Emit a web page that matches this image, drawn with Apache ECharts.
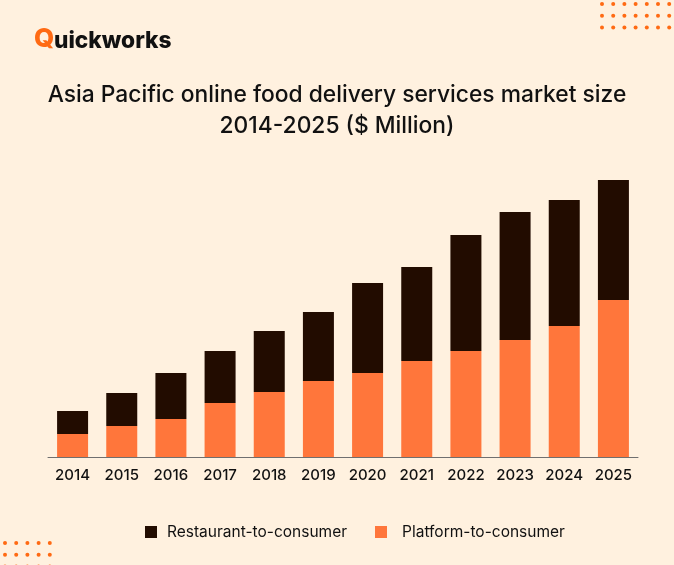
<!DOCTYPE html>
<html>
<head>
<meta charset="utf-8">
<style>html,body{margin:0;padding:0;background:#fff1df}</style>
<script src="https://cdn.jsdelivr.net/npm/echarts@6/dist/echarts.min.js"></script>
</head>
<body>
<div id="chart" style="width:674px;height:565px"></div>
<script>
var years = ['2014','2015','2016','2017','2018','2019','2020','2021','2022','2023','2024','2025'];
var platform = [23,31,38,54,65,76,84,96,106,117,131,157];
var restaurant = [23,33,46,52,61,69,90,94,116,128,126,120];

var font = 'Inter';
var dots = [];
function addDots(x0, y0, cols, rows) {
    for (var r = 0; r < rows; r++) {
        for (var c = 0; c < cols; c++) {
            dots.push({
                type: 'circle',
                shape: { cx: x0 + c * 11.2, cy: y0 + r * 11.8, r: 2 },
                style: { fill: '#ff6a13' }
            });
        }
    }
}
addDots(602, 4, 7, 3);
addDots(5, 543, 5, 3);

var myChart = echarts.init(document.getElementById('chart'));

var option = {
    backgroundColor: '#fff1df',
    animation: false,
    title: {
        text: 'Asia Pacific online food delivery services market size\n2014-2025 ($ Million)',
        left: 'center',
        top: 75,
        textStyle: { fontFamily: font, fontSize: 22.8, fontWeight: 500, color: '#111111', lineHeight: 31 }
    },
    legend: {
        data: [
            { name: 'Restaurant-to-consumer' },
            { name: 'Platform-to-consumer', textStyle: { padding: [0, 0, 0, 10] } }
        ],
        left: 145,
        top: 524,
        padding: 0,
        itemWidth: 12,
        itemHeight: 12,
        itemGap: 28,
        icon: 'rect',
        textStyle: { fontFamily: font, fontSize: 15.5, color: '#111111', padding: [0, 0, 0, 5] }
    },
    grid: { left: 48, width: 590, top: 170, height: 287 },
    xAxis: {
        type: 'category',
        data: years,
        axisTick: { show: false },
        axisLine: { lineStyle: { color: '#6f6f6f', width: 1 } },
        axisLabel: { interval: 0, fontFamily: font, fontSize: 15, fontWeight: 500, color: '#111111', margin: 11 }
    },
    yAxis: {
        type: 'value',
        min: 0,
        max: 287,
        show: false
    },
    series: [
        {
            name: 'Platform-to-consumer',
            type: 'bar',
            stack: 'total',
            barWidth: 31,
            itemStyle: { color: '#ff763b' },
            data: platform
        },
        {
            name: 'Restaurant-to-consumer',
            type: 'bar',
            stack: 'total',
            barWidth: 31,
            itemStyle: { color: '#220c00' },
            data: restaurant
        }
    ],
    graphic: dots.concat([
        {
            type: 'text',
            left: 34,
            top: 26,
            style: { text: 'Q', fontFamily: font, fontSize: 26, fontWeight: 800, fill: '#ff6a13' }
        },
        {
            type: 'text',
            left: 54,
            top: 30,
            style: { text: 'uickworks', fontFamily: font, fontSize: 22.7, fontWeight: 800, fill: '#111111' }
        }
    ])
};

myChart.setOption(option);
</script>
</body>
</html>
